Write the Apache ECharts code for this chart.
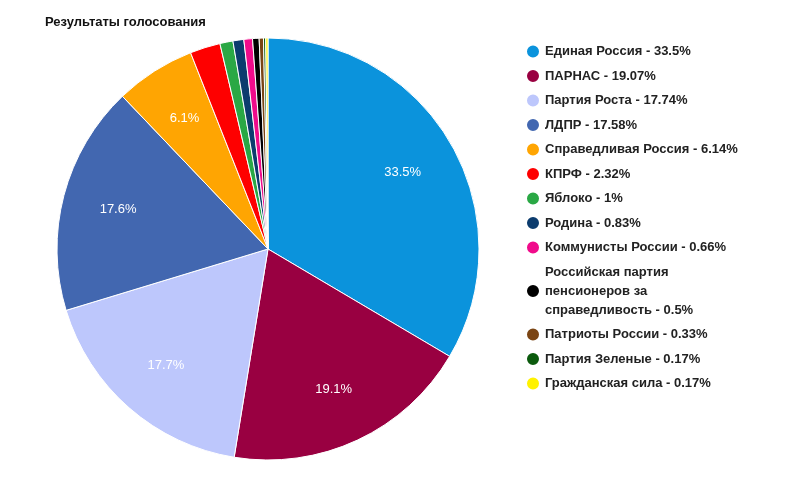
<!DOCTYPE html>
<html><head><meta charset="utf-8">
<script src="https://cdn.jsdelivr.net/npm/echarts@6/dist/echarts.min.js"></script>
<style>html,body{margin:0;background:#fff}#main{width:788px;height:481px}</style>
</head><body><div id="main"></div>
<script>
var names = ["Единая Россия", "ПАРНАС", "Партия Роста", "ЛДПР", "Справедливая Россия", "КПРФ", "Яблоко", "Родина", "Коммунисты России", "Российская партия\nпенсионеров за\nсправедливость", "Патриоты России", "Партия Зеленые", "Гражданская сила"];
var values = [33.5, 19.07, 17.74, 17.58, 6.14, 2.32, 1, 0.83, 0.66, 0.5, 0.33, 0.17, 0.17];
var colors = ["#0b93dc", "#990041", "#bdc7fc", "#4267b0", "#ffa502", "#fe0000", "#2aa845", "#0c3c6e", "#f00b8b", "#000000", "#7b4514", "#0b5a0d", "#fff200"];

var myChart = echarts.init(document.getElementById("main"));

var data = names.map(function (n, i) {
  return { name: n, value: values[i], itemStyle: { color: colors[i] } };
});

myChart.setOption({
  title: {
    text: "Результаты голосования",
    left: 40, top: 11,
    textStyle: { fontSize: 13, fontWeight: "bold", color: "#111", fontFamily: "Arial" }
  },
  legend: {
    orient: "vertical", left: 520, top: 37,
    icon: "circle", itemWidth: 14, itemHeight: 14, itemGap: 5.5,
    data: names,
    formatter: function (n) { return n + " - " + values[names.indexOf(n)] + "%"; },
    textStyle: { fontSize: 13, fontWeight: "bold", color: "#222", lineHeight: 19, fontFamily: "Arial" }
  },
  series: [
    {
      type: "pie", center: [268, 249], radius: [0, 211],
      startAngle: 90, clockwise: true, silent: true,
      itemStyle: { borderColor: "#fff", borderWidth: 1 },
      label: { show: false }, labelLine: { show: false },
      data: data
    },
    {
      // overlay for the percentage labels only
      type: "pie", center: [268, 249], radius: [93, 211],
      startAngle: 90, clockwise: true, silent: true,
      itemStyle: { color: "transparent", borderWidth: 0 },
      labelLine: { show: false },
      label: {
        position: "inside", color: "#fff", fontSize: 13, fontFamily: "Arial",
        formatter: function (p) { return p.value > 5 ? p.value.toFixed(1) + "%" : ""; }
      },
      data: values.map(function (v, i) { return { name: names[i], value: v }; })
    }
  ]
});
</script></body></html>
